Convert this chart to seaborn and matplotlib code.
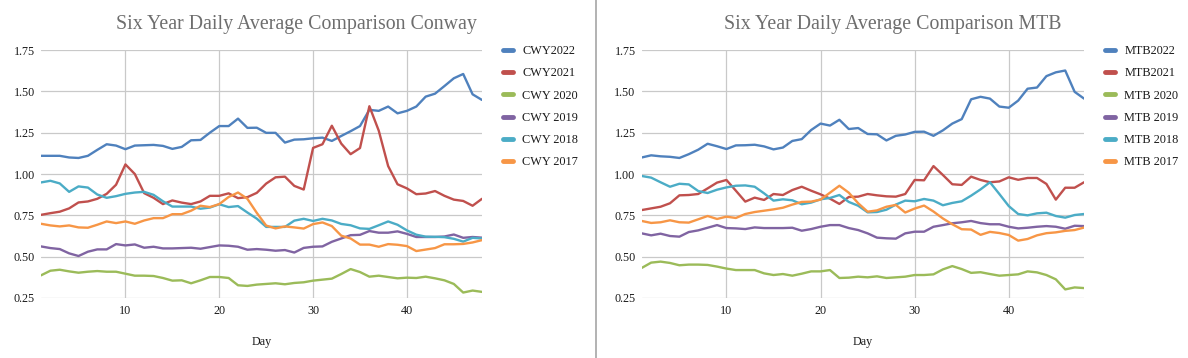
import matplotlib
matplotlib.use("Agg")
import matplotlib.pyplot as plt
import seaborn as sns
import pandas as pd
from matplotlib.lines import Line2D

# Data
days = list(range(1, 49))

cwy_2022 = [1.11, 1.11, 1.11, 1.10, 1.097, 1.11, 1.146, 1.18, 1.172, 1.15,
            1.172, 1.174, 1.176, 1.17, 1.152, 1.164, 1.204, 1.206, 1.25, 1.29,
            1.29, 1.335, 1.279, 1.28, 1.249, 1.249, 1.19, 1.208, 1.21, 1.216,
            1.22, 1.20, 1.23, 1.259, 1.29, 1.388, 1.382, 1.408, 1.367, 1.382,
            1.408, 1.468, 1.486, 1.532, 1.579, 1.605, 1.482, 1.448]
cwy_2021 = [0.753, 0.763, 0.772, 0.792, 0.828, 0.834, 0.85, 0.88, 0.935, 1.058,
            1.0, 0.884, 0.856, 0.818, 0.84, 0.827, 0.818, 0.834, 0.868, 0.868,
            0.883, 0.854, 0.86, 0.886, 0.942, 0.98, 0.984, 0.928, 0.906, 1.158,
            1.18, 1.292, 1.184, 1.12, 1.157, 1.41, 1.262, 1.048, 0.938, 0.913,
            0.878, 0.882, 0.897, 0.868, 0.845, 0.837, 0.808, 0.85]
cwy_2020 = [0.387, 0.415, 0.421, 0.411, 0.403, 0.409, 0.413, 0.409, 0.409, 0.397,
            0.385, 0.385, 0.383, 0.371, 0.355, 0.357, 0.339, 0.357, 0.377, 0.377,
            0.371, 0.327, 0.323, 0.331, 0.335, 0.339, 0.333, 0.341, 0.345, 0.355,
            0.361, 0.367, 0.395, 0.425, 0.407, 0.379, 0.385, 0.377, 0.369, 0.373,
            0.371, 0.379, 0.369, 0.357, 0.335, 0.283, 0.295, 0.287]
cwy_2019 = [0.562, 0.552, 0.546, 0.52, 0.504, 0.53, 0.544, 0.544, 0.576, 0.568,
            0.574, 0.554, 0.56, 0.55, 0.55, 0.552, 0.554, 0.548, 0.558, 0.568,
            0.566, 0.56, 0.542, 0.546, 0.542, 0.536, 0.54, 0.525, 0.553, 0.56,
            0.562, 0.59, 0.61, 0.63, 0.632, 0.655, 0.645, 0.645, 0.653, 0.638,
            0.619, 0.619, 0.619, 0.622, 0.634, 0.614, 0.619, 0.615]
cwy_2018 = [0.949, 0.959, 0.943, 0.892, 0.925, 0.918, 0.876, 0.856, 0.866, 0.88,
            0.888, 0.892, 0.874, 0.835, 0.803, 0.803, 0.803, 0.79, 0.797, 0.817,
            0.80, 0.806, 0.767, 0.73, 0.68, 0.68, 0.68, 0.718, 0.729, 0.716,
            0.729, 0.719, 0.698, 0.69, 0.671, 0.668, 0.69, 0.713, 0.693, 0.659,
            0.633, 0.621, 0.62, 0.618, 0.608, 0.591, 0.614, 0.61]
cwy_2017 = [0.699, 0.689, 0.683, 0.689, 0.677, 0.675, 0.693, 0.713, 0.703, 0.713,
            0.699, 0.719, 0.733, 0.733, 0.757, 0.757, 0.778, 0.808, 0.8, 0.818,
            0.861, 0.888, 0.85, 0.765, 0.688, 0.671, 0.683, 0.677, 0.67, 0.697,
            0.707, 0.685, 0.627, 0.61, 0.573, 0.573, 0.56, 0.576, 0.572, 0.564,
            0.534, 0.543, 0.552, 0.575, 0.575, 0.577, 0.586, 0.6]

mtb_2022 = [1.10, 1.113, 1.107, 1.104, 1.097, 1.12, 1.147, 1.183, 1.168, 1.151,
            1.173, 1.174, 1.177, 1.167, 1.149, 1.16, 1.2, 1.211, 1.266, 1.305,
            1.293, 1.328, 1.272, 1.278, 1.242, 1.24, 1.203, 1.231, 1.239, 1.255,
            1.256, 1.231, 1.264, 1.305, 1.332, 1.452, 1.467, 1.456, 1.408, 1.401,
            1.444, 1.516, 1.523, 1.592, 1.615, 1.626, 1.497, 1.456]
mtb_2021 = [0.782, 0.792, 0.802, 0.823, 0.871, 0.873, 0.879, 0.913, 0.948, 0.964,
            0.899, 0.833, 0.857, 0.843, 0.879, 0.873, 0.903, 0.923, 0.899, 0.877,
            0.851, 0.819, 0.861, 0.863, 0.879, 0.871, 0.865, 0.863, 0.879, 0.964,
            0.962, 1.048, 0.994, 0.938, 0.934, 0.984, 0.964, 0.95, 0.955, 0.98,
            0.965, 0.976, 0.976, 0.94, 0.845, 0.917, 0.917, 0.95]
mtb_2020 = [0.432, 0.464, 0.47, 0.462, 0.448, 0.452, 0.452, 0.45, 0.44, 0.428,
            0.419, 0.419, 0.419, 0.399, 0.389, 0.395, 0.385, 0.397, 0.411, 0.411,
            0.419, 0.371, 0.373, 0.379, 0.375, 0.381, 0.371, 0.375, 0.379, 0.389,
            0.389, 0.393, 0.423, 0.443, 0.425, 0.402, 0.406, 0.395, 0.385, 0.389,
            0.393, 0.411, 0.405, 0.389, 0.363, 0.302, 0.314, 0.31]
mtb_2019 = [0.641, 0.629, 0.639, 0.625, 0.621, 0.649, 0.659, 0.675, 0.691, 0.673,
            0.671, 0.667, 0.677, 0.673, 0.673, 0.673, 0.675, 0.657, 0.667, 0.681,
            0.691, 0.691, 0.673, 0.661, 0.641, 0.615, 0.611, 0.609, 0.641, 0.651,
            0.651, 0.681, 0.691, 0.702, 0.708, 0.716, 0.703, 0.696, 0.696, 0.681,
            0.671, 0.675, 0.681, 0.685, 0.681, 0.669, 0.687, 0.685]
mtb_2018 = [0.988, 0.978, 0.95, 0.923, 0.941, 0.937, 0.897, 0.885, 0.905, 0.919,
            0.929, 0.931, 0.923, 0.883, 0.839, 0.847, 0.841, 0.817, 0.827, 0.847,
            0.855, 0.873, 0.831, 0.808, 0.768, 0.77, 0.784, 0.815, 0.839, 0.835,
            0.849, 0.839, 0.811, 0.825, 0.835, 0.869, 0.907, 0.95, 0.879, 0.806,
            0.758, 0.75, 0.762, 0.766, 0.746, 0.736, 0.752, 0.758]
mtb_2017 = [0.716, 0.704, 0.708, 0.72, 0.708, 0.706, 0.726, 0.746, 0.728, 0.742,
            0.734, 0.758, 0.77, 0.778, 0.786, 0.796, 0.815, 0.831, 0.833, 0.845,
            0.887, 0.929, 0.887, 0.823, 0.772, 0.78, 0.802, 0.813, 0.767, 0.791,
            0.809, 0.773, 0.731, 0.696, 0.666, 0.664, 0.632, 0.65, 0.643, 0.631,
            0.597, 0.607, 0.629, 0.642, 0.647, 0.656, 0.661, 0.676]

cwy_names = ['CWY2022', 'CWY2021', 'CWY 2020', 'CWY 2019', 'CWY 2018', 'CWY 2017']
mtb_names = ['MTB2022', 'MTB2021', 'MTB 2020', 'MTB 2019', 'MTB 2018', 'MTB 2017']
colors = ['#4F81BD', '#C0504D', '#9BBB59', '#8064A2', '#4BACC6', '#F79646']


def to_long(names, series):
    frames = []
    for name, vals in zip(names, series):
        frames.append(pd.DataFrame({'Day': days, 'Value': vals, 'Series': name}))
    return pd.concat(frames, ignore_index=True)


df_cwy = to_long(cwy_names, [cwy_2022, cwy_2021, cwy_2020, cwy_2019, cwy_2018, cwy_2017])
df_mtb = to_long(mtb_names, [mtb_2022, mtb_2021, mtb_2020, mtb_2019, mtb_2018, mtb_2017])

sns.set_theme(style="white")
plt.rcParams['font.family'] = ['Liberation Serif', 'DejaVu Serif']

fig = plt.figure(figsize=(11.88, 3.58), dpi=100)
ax1 = fig.add_axes([0.0345, 0.1676, 0.3712, 0.6927])
ax2 = fig.add_axes([0.5402, 0.1676, 0.3723, 0.6927])

panels = [(ax1, df_cwy, cwy_names, 'Six Year Daily Average Comparison Conway', 296),
          (ax2, df_mtb, mtb_names, 'Six Year Daily Average Comparison MTB', 893)]

for ax, df, names, title, title_x in panels:
    sns.lineplot(ax=ax, data=df, x='Day', y='Value', hue='Series', hue_order=names,
                 palette=colors, linewidth=1.7, legend=True)
    ax.set_xlim(1, 48)
    ax.set_ylim(0.25, 1.75)
    ax.set_xticks([10, 20, 30, 40])
    ax.set_yticks([0.25, 0.5, 0.75, 1.0, 1.25, 1.5, 1.75])
    ax.set_yticklabels(['0.25', '0.50', '0.75', '1.00', '1.25', '1.50', '1.75'])
    ax.grid(True, color='#c9c9c9', linewidth=0.9)
    ax.set_axisbelow(True)
    for s in ax.spines.values():
        s.set_visible(False)
    ax.tick_params(axis='both', length=0, labelsize=8.7, colors='#1a1a1a')
    ax.tick_params(axis='y', pad=4.5)
    ax.tick_params(axis='x', pad=5)
    ax.set_ylabel('')
    ax.set_xlabel('Day', fontsize=8.7, color='#1a1a1a', labelpad=14)

    leg = ax.legend(loc='upper left', bbox_to_anchor=(1.048, 1.02), frameon=False,
                    fontsize=8.8, handlelength=0.8, handletextpad=0.75, labelspacing=0.84,
                    borderaxespad=0, borderpad=0)
    for h in leg.legend_handles:
        h.set_linewidth(3.5)
    for t in leg.get_texts():
        t.set_color('#1a1a1a')

    fig.text(title_x / 1188, 1 - 29 / 358, title, ha='center', va='baseline',
             fontsize=14.3, color='#6e6e6e')

# divider between the two charts
fig.add_artist(Line2D([596 / 1188, 596 / 1188], [0, 1], color='#a6a6a6', linewidth=1.2))

plt.savefig('out.png', dpi=100)
